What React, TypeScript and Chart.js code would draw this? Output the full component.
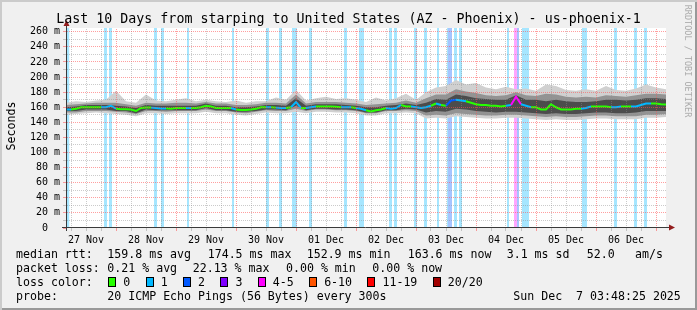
import React, { useEffect, useRef } from 'react';
import { Chart, registerables } from 'chart.js';

Chart.register(...registerables);

// ---------- text ----------
const TITLE = 'Last 10 Days from starping to United States (AZ - Phoenix) - us-phoenix-1';
const Y_TITLE = 'Seconds';
const WATERMARK = 'RRDTOOL / TOBI OETIKER';

// ---------- axes (x in hours since 27 Nov 00:00) ----------
const X_MIN = 4;
const X_MAX = 244;
const Y_MAX = 265;
const xTickHours = [6, 12, 18, 24, 30, 36, 42, 48, 54, 60, 66, 72, 78, 84, 90, 96, 102, 108, 114, 120, 126, 132, 138, 144, 150, 156, 162, 168, 174, 180, 186, 192, 198, 204, 210, 216, 222, 228, 234, 240];
const dayLabelHours = [12, 36, 60, 84, 108, 132, 156, 180, 204, 228];
const dayLabels = ['27 Nov', '28 Nov', '29 Nov', '30 Nov', '01 Dec', '02 Dec', '03 Dec', '04 Dec', '05 Dec', '06 Dec'];
const yTickValues = [0, 10, 20, 30, 40, 50, 60, 70, 80, 90, 100, 110, 120, 130, 140, 150, 160, 170, 180, 190, 200, 210, 220, 230, 240, 250, 260];
const yLabelValues = [0, 20, 40, 60, 80, 100, 120, 140, 160, 180, 200, 220, 240, 260];
const yLabels = ['0', '20 m', '40 m', '60 m', '80 m', '100 m', '120 m', '140 m', '160 m', '180 m', '200 m', '220 m', '240 m', '260 m'];

// ---------- median rtt (ms), every 2 h from hour 4 ----------
const MEDIAN_T0 = 4;
const MEDIAN_DT = 2;
const medianRtt = [
  157, 157, 158, 160, 160, 160, 160, 160, 160, 162,
  158, 157.5, 157.5, 157, 155, 159, 159.5, 159.5, 159, 158.5,
  158.5, 158, 159, 159, 159, 159, 159, 160, 162, 161,
  159, 159, 159, 159, 157, 156.5, 156.5, 157, 158, 160,
  160, 160, 159.5, 159, 159, 160, 167, 159, 159, 160,
  161, 161, 161, 161, 160.5, 160, 160, 160, 159, 158,
  156, 154.5, 156, 157, 159, 158, 159, 163, 161, 161,
  160, 159, 160, 162, 165, 163, 162, 169, 170, 169,
  168, 166, 164, 163, 163, 162, 162, 161, 162, 163,
  174, 164, 162, 160, 160, 157, 157, 164, 160, 157,
  157, 157, 158, 158, 159, 161, 161, 161, 161, 160,
  160, 161, 161, 161, 161, 163, 165, 165, 165, 164,
  163.6,
];

// ---------- smoke (ping distribution, ms), every 4 h from hour 4 ----------
const SMOKE_T0 = 4;
const SMOKE_DT = 4;
const smokeMin = [
  150, 151, 152, 153, 152, 151, 150, 148, 152, 152, 151, 152, 152, 152, 154, 152, 152, 150, 149, 151,
  153, 152, 152, 154, 152, 154, 154, 153, 153, 152, 149, 149, 152, 152, 153, 152,
  145, 146, 145, 148, 147, 146, 145, 145, 146, 146, 145, 144, 143, 144, 143, 143, 144, 145, 145, 144,
  144, 144, 146, 146, 147,
];
const smokeP10 = [
  153, 153, 155, 155, 155, 154, 153, 151, 155, 155, 154, 155, 155, 155, 157, 155, 155, 153, 152, 154,
  156, 155, 155, 158, 155, 157, 157, 156, 156, 155, 152, 152, 155, 155, 156, 155,
  149, 150, 149, 152, 151, 150, 149, 149, 150, 150, 149, 148, 147, 148, 147, 147, 148, 149, 149, 148,
  148, 148, 150, 150, 151,
];
const smokeP25 = [
  155, 155, 157, 157, 157, 155, 155, 152, 157, 156, 156, 156, 156, 156, 159, 156, 156, 154, 154, 155,
  157, 157, 156, 162, 156, 158, 158, 157, 157, 156, 153, 153, 156, 156, 158, 157,
  153, 155, 154, 158, 157, 155, 154, 153, 154, 154, 153, 152, 151, 152, 151, 151, 152, 153, 153, 152,
  152, 153, 155, 155, 155,
];
const smokeP75 = [
  160, 161, 163, 163, 163, 162, 161, 159, 163, 162, 162, 162, 162, 162, 165, 162, 162, 160, 160, 161,
  163, 163, 162, 172, 162, 164, 164, 164, 163, 162, 160, 160, 162, 163, 165, 163,
  166, 171, 170, 177, 175, 172, 171, 170, 170, 176, 170, 170, 168, 170, 168, 167, 167, 168, 170, 170,
  169, 170, 172, 172, 171,
];
const smokeP90 = [
  163, 164, 165, 166, 166, 166, 164, 162, 166, 165, 165, 166, 166, 165, 167, 165, 165, 163, 163, 164,
  166, 166, 165, 177, 165, 167, 167, 167, 166, 165, 163, 164, 165, 166, 169, 166,
  172, 177, 177, 184, 181, 179, 176, 175, 176, 180, 176, 175, 178, 177, 174, 173, 174, 173, 176, 175,
  174, 176, 178, 178, 177,
];
const smokeMax = [
  166, 168, 167, 169, 170, 182, 168, 166, 177, 169, 168, 170, 172, 168, 170, 168, 167, 169, 166, 168,
  168, 173, 170, 183, 169, 172, 174, 171, 172, 170, 167, 173, 169, 172, 178, 170,
  180, 186, 188, 196, 190, 192, 186, 184, 187, 184, 185, 182, 190, 188, 183, 182, 184, 182, 188, 183,
  182, 185, 190, 186, 184,
];

// ---------- packet loss events (hours, lost pings of 20) ----------
const lossStart = [4.3, 19.2, 21.2, 39.2, 42.0, 52.4, 70.4, 84.0, 89.2, 94.4, 101.2, 115.2, 121.2, 133.2, 135.2, 143.2, 147.2, 152.4, 156.4, 156.8, 159.2, 161.2, 180.4, 183.2, 184.4, 186.4, 210.4, 223.2, 231.2, 235.2];
const lossEnd = [5.3, 20.4, 22.4, 40.4, 43.2, 53.2, 71.2, 85.2, 90.4, 96.4, 102.4, 116.4, 123.2, 134.4, 136.4, 144.4, 148.4, 153.2, 156.8, 158.4, 160.4, 162.4, 181.2, 184.4, 185.2, 189.2, 212.4, 224.4, 232.4, 236.4];
const lossCount = [1, 1, 1, 1, 1, 1, 1, 1, 1, 1, 1, 1, 1, 1, 1, 1, 1, 1, 1, 2, 1, 1, 1, 4, 2, 1, 1, 1, 1, 1];

// ---------- loss colour legend ----------
const lossLabels = ['0', '1', '2', '3', '4-5', '6-10', '11-19', '20/20'];
const lossFloor = [0, 1, 2, 3, 4, 6, 11, 20];
const lossColors = ['#26ff00', '#00b8ff', '#0059ff', '#7f00ff', '#ff00ff', '#ff5500', '#ff0000', '#a10000'];

// ---------- statistics text ----------
const rttStats = ['159.8 ms avg', '174.5 ms max', '152.9 ms min', '163.6 ms now', '3.1 ms sd', '52.0', 'am/s'];
const lossStats = ['0.21 % avg', '22.13 % max', '0.00 % min', '0.00 % now'];
const probeText = '20 ICMP Echo Pings (56 Bytes) every 300s';
const dateText = 'Sun Dec  7 03:48:25 2025';

// ---------- helpers ----------
const MONO = '"DejaVu Sans Mono", monospace';
const lossClass = (c: number) => {
  let idx = 0;
  lossFloor.forEach((f, i) => { if (c >= f) idx = i; });
  return idx;
};
const lossBetween = (a: number, b: number) => {
  let m = 0;
  for (let k = 0; k < lossStart.length; k++) {
    if (lossEnd[k] > a && lossStart[k] < b) m = Math.max(m, lossCount[k]);
  }
  return m;
};
const withAlpha = (hex: string, a: number) => {
  const r = parseInt(hex.slice(1, 3), 16), g = parseInt(hex.slice(3, 5), 16), b = parseInt(hex.slice(5, 7), 16);
  return `rgba(${r},${g},${b},${a})`;
};
const series = (arr: (number | null)[], t0: number, dt: number) => arr.map((v, i) => ({ x: t0 + i * dt, y: v }));

const GRID_MAJOR = 'rgba(255,80,80,0.55)';
const GRID_MINOR = 'rgba(140,140,140,0.45)';
const isMajorX = (v: number) => v % 24 === 0;
const isMajorY = (v: number) => v % 20 === 0;

function buildDatasets() {
  const ds: any[] = [];
  ds.push({
    data: series(medianRtt, MEDIAN_T0, MEDIAN_DT),
    borderWidth: 2,
    borderColor: lossColors[0],
    pointRadius: 0,
    tension: 0,
    fill: false,
    order: 10,
    segment: {
      borderColor: (ctx: any) => lossColors[lossClass(lossBetween(ctx.p0.parsed.x, ctx.p1.parsed.x))],
    },
  });
  const bands: [number[], number[], string, number][] = [
    [smokeP25, smokeP75, '#4c4c4c', 20],
    [smokeP10, smokeP90, '#939393', 30],
    [smokeMin, smokeMax, '#d0d0d0', 40],
  ];
  bands.forEach(([lo, hi, col, ord]) => {
    ds.push({
      data: series(lo, SMOKE_T0, SMOKE_DT), borderColor: 'rgba(0,0,0,0)', borderWidth: 1,
      pointRadius: 0, tension: 0, fill: false, order: ord,
    });
    ds.push({
      data: series(hi, SMOKE_T0, SMOKE_DT), borderColor: 'rgba(0,0,0,0)', borderWidth: 1,
      pointRadius: 0, tension: 0, fill: '-1', backgroundColor: col, order: ord,
    });
  });
  const classes = Array.from(new Set(lossCount.map(lossClass)));
  classes.forEach((cls) => {
    const pts: { x: number; y: number }[] = [];
    lossStart.forEach((s, k) => {
      if (lossClass(lossCount[k]) !== cls) return;
      const e = lossEnd[k];
      pts.push({ x: s, y: 0 }, { x: s, y: Y_MAX }, { x: e, y: Y_MAX }, { x: e, y: 0 });
    });
    ds.push({
      data: pts, borderColor: 'rgba(0,0,0,0)', borderWidth: 1, pointRadius: 0, tension: 0,
      fill: 'origin', backgroundColor: withAlpha(lossColors[cls], 0.35), order: 50,
    });
  });
  return ds;
}

const framePlugin = {
  id: 'rrdFrame',
  beforeDraw(chart: any) {
    const { ctx, chartArea: a } = chart;
    ctx.save();
    ctx.fillStyle = '#ffffff';
    ctx.fillRect(a.left, a.top, a.right - a.left, a.bottom - a.top);
    ctx.restore();
  },
  afterDatasetsDraw(chart: any) {
    // dotted grid drawn over the graph, positions from the chart's own scales
    const { ctx, chartArea: a, scales } = chart;
    ctx.save();
    ctx.lineWidth = 1;
    ctx.setLineDash([1, 1]);
    scales.x.ticks.forEach((t: any) => {
      const px = Math.round(scales.x.getPixelForValue(t.value) - 0.5) + 0.5;
      if (px <= a.left + 1 || px >= a.right) return;
      ctx.strokeStyle = isMajorX(t.value) ? GRID_MAJOR : GRID_MINOR;
      ctx.beginPath();
      ctx.moveTo(px, a.bottom);
      ctx.lineTo(px, a.top);
      ctx.stroke();
    });
    scales.y.ticks.forEach((t: any) => {
      if (t.value === 0) return;
      const py = Math.round(scales.y.getPixelForValue(t.value) - 0.5) + 0.5;
      ctx.strokeStyle = isMajorY(t.value) ? GRID_MAJOR : GRID_MINOR;
      ctx.beginPath();
      ctx.moveTo(a.left + 1, py);
      ctx.lineTo(a.right, py);
      ctx.stroke();
    });
    ctx.restore();
  },
  afterDraw(chart: any) {
    const { ctx, chartArea: a } = chart;
    ctx.save();
    ctx.strokeStyle = '#3a3a3a';
    ctx.lineWidth = 1;
    ctx.beginPath();
    ctx.moveTo(a.left + 0.5, a.bottom + 3);
    ctx.lineTo(a.left + 0.5, a.top - 4);
    ctx.moveTo(a.left - 4, a.bottom - 0.5);
    ctx.lineTo(a.right + 3, a.bottom - 0.5);
    ctx.stroke();
    ctx.fillStyle = '#931d1d';
    ctx.beginPath();
    ctx.moveTo(a.left + 0.5, a.top - 8);
    ctx.lineTo(a.left - 2.5, a.top - 2);
    ctx.lineTo(a.left + 3.5, a.top - 2);
    ctx.closePath();
    ctx.fill();
    ctx.beginPath();
    ctx.moveTo(a.right + 9, a.bottom - 0.5);
    ctx.lineTo(a.right + 3, a.bottom - 3.5);
    ctx.lineTo(a.right + 3, a.bottom + 2.5);
    ctx.closePath();
    ctx.fill();
    ctx.restore();
  },
};

function Txt({ x, base, text, size = 11.6, lh = 14, color = '#000' }: any) {
  const top = base - ((lh - 1.164 * size) / 2 + 0.928 * size);
  return (
    <div style={{ position: 'absolute', left: x, top, fontSize: size, lineHeight: `${lh}px`, height: lh, whiteSpace: 'pre', color, fontFamily: MONO }}>
      {text}
    </div>
  );
}

export default function App() {
  const ref = useRef<HTMLCanvasElement>(null);
  useEffect(() => {
    document.body.style.margin = '0';
    const chart = new Chart(ref.current as HTMLCanvasElement, {
      type: 'line',
      data: { datasets: buildDatasets() },
      plugins: [framePlugin],
      options: {
        animation: false,
        responsive: false,
        events: [],
        layout: { padding: { left: 0, right: 31, top: 28, bottom: 62 } },
        plugins: { legend: { display: false }, tooltip: { enabled: false }, title: { display: false } },
        scales: {
          x: {
            type: 'linear',
            min: X_MIN,
            max: X_MAX,
            afterFit: (s: any) => { s.height = 20; },
            afterBuildTicks: (s: any) => { s.ticks = xTickHours.map((v) => ({ value: v })); },
            ticks: {
              autoSkip: false, maxRotation: 0, minRotation: 0, padding: 3, color: '#000',
              font: { family: MONO, size: 10 },
              callback: (v: any) => {
                const i = dayLabelHours.indexOf(Number(v));
                return i >= 0 ? dayLabels[i] : '';
              },
            },
            grid: {
              drawOnChartArea: false, drawTicks: true, lineWidth: 1, tickLength: 3,
              tickColor: (c: any) => (c.tick && isMajorX(c.tick.value) ? GRID_MAJOR : GRID_MINOR),
            },
            border: { display: false },
          },
          y: {
            type: 'linear',
            min: 0,
            max: Y_MAX,
            afterFit: (s: any) => { s.width = 66; },
            afterBuildTicks: (s: any) => { s.ticks = yTickValues.map((v) => ({ value: v })); },
            ticks: {
              autoSkip: false, padding: 3, color: '#000',
              font: { family: MONO, size: 10 },
              callback: (v: any) => {
                const i = yLabelValues.indexOf(Number(v));
                if (i < 0) return '';
                const lab = yLabels[i];
                return lab.includes(' ') ? lab : lab + '  ';
              },
            },
            grid: {
              drawOnChartArea: false, drawTicks: true, lineWidth: 1, tickLength: 3,
              tickColor: (c: any) => (c.tick && isMajorY(c.tick.value) ? GRID_MAJOR : GRID_MINOR),
            },
            border: { display: false },
          },
        },
      } as any,
    });
    return () => chart.destroy();
  }, []);

  const rttX = [107.3, 207.7, 306.7, 407.7, 506.7, 586.7, 635];
  const lossX = [107.3, 192.7, 286, 372.3];

  return (
    <div style={{
      position: 'fixed', left: 0, top: 0, width: 697, height: 310, overflow: 'hidden',
      background: '#f0f0f0', boxShadow: 'inset 2px 2px 0 #cbcbcb, inset -2px -2px 0 #999999',
      fontFamily: MONO, color: '#000',
    }}>
      <canvas ref={ref} width={697} height={310} style={{ position: 'absolute', left: 0, top: 0, width: 697, height: 310 }} />
      <div style={{ position: 'absolute', left: 0, width: 697, top: 11.4, fontSize: 13.3, lineHeight: '16px', textAlign: 'center', whiteSpace: 'pre' }}>
        {TITLE}
      </div>
      <div style={{
        position: 'absolute', left: 11 - 30, top: 125.5 - 7, width: 60, height: 14, lineHeight: '14px',
        fontSize: 11.6, textAlign: 'center', transform: 'rotate(-90deg)',
      }}>
        {Y_TITLE}
      </div>
      <div style={{
        position: 'absolute', left: 688 - 65, top: 61.3 - 5, width: 130, height: 10, lineHeight: '10px',
        fontSize: 8.5, textAlign: 'center', transform: 'rotate(90deg)', color: '#ababab', whiteSpace: 'pre',
      }}>
        {WATERMARK}
      </div>

      <Txt x={16} base={258.3} text="median rtt:" />
      {rttStats.map((t, i) => <Txt key={'r' + i} x={rttX[i]} base={258.3} text={t} />)}

      <Txt x={16} base={272.3} text="packet loss:" />
      {lossStats.map((t, i) => <Txt key={'l' + i} x={lossX[i]} base={272.3} text={t} />)}

      <Txt x={16} base={286.3} text="loss color:" />
      <div style={{ position: 'absolute', left: 108.3, top: 275.3, height: 14, display: 'flex', alignItems: 'flex-start', fontSize: 11.6, lineHeight: '14px', whiteSpace: 'pre' }}>
        {lossLabels.map((lab, i) => (
          <React.Fragment key={lab}>
            <span style={{ display: 'inline-block', boxSizing: 'border-box', width: 8, height: 10, marginTop: 1.4, border: '1px solid #000', background: lossColors[i], marginRight: 7 }} />
            <span style={{ marginRight: 15.4 }}>{lab}</span>
          </React.Fragment>
        ))}
      </div>

      <Txt x={16} base={300.3} text="probe:" />
      <Txt x={107.3} base={300.3} text={probeText} />
      <Txt x={513.3} base={300.3} text={dateText} />
    </div>
  );
}
